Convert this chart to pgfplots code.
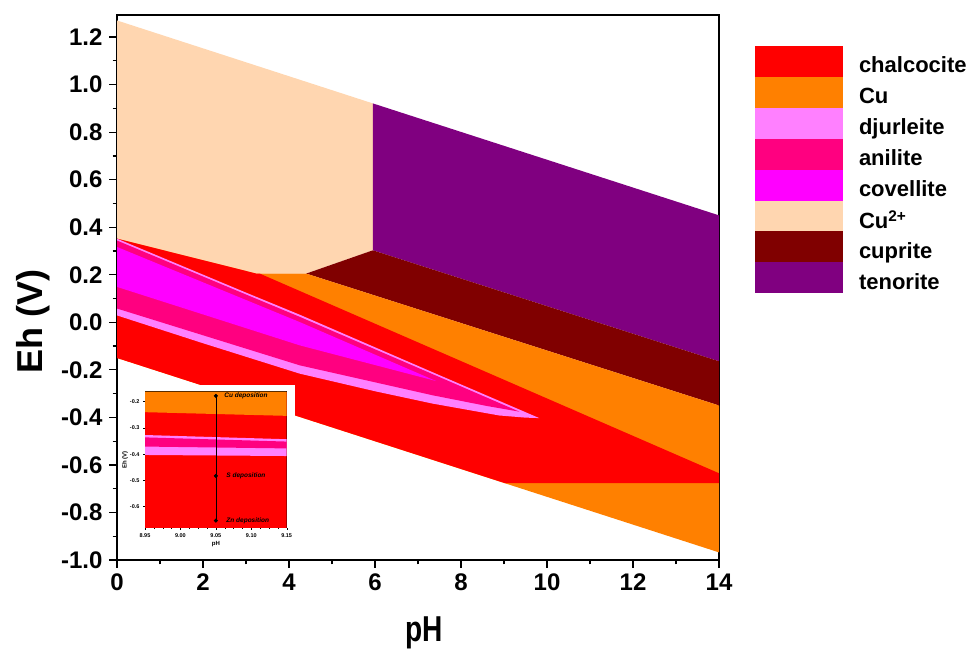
\documentclass[border=0pt]{standalone}
\usepackage{fontspec}
\setmainfont{Liberation Sans}
\usepackage{graphicx}
\usepackage{pgfplots}
\pgfplotsset{compat=1.18}
\definecolor{chalc}{HTML}{FF0000}
\definecolor{cuorg}{HTML}{FF8000}
\definecolor{djur}{HTML}{FF80FF}
\definecolor{anil}{HTML}{FF0080}
\definecolor{covel}{HTML}{FF00FF}
\definecolor{cupeach}{HTML}{FFD6B0}
\definecolor{cupr}{HTML}{800000}
\definecolor{tenor}{HTML}{800080}
\begin{document}
\begin{tikzpicture}[x=1pt,y=1pt]
\useasboundingbox (0,0) rectangle (977,652);
\begin{axis}[
  at={(117pt,92pt)}, anchor=south west,
  scale only axis, width=602pt, height=545pt,
  xmin=0, xmax=14, ymin=-1.0, ymax=1.293,
  xtick={0,2,4,6,8,10,12,14},
  minor x tick num=1,
  ytick={-1.0,-0.8,-0.6,-0.4,-0.2,0,0.2,0.4,0.6,0.8,1.0,1.2},
  minor y tick num=1,
  tick align=outside, tick pos=left,
  major tick length=8pt, minor tick length=4.5pt,
  tick style={black, line width=1.2pt},
  axis line style={line width=1.3pt},
  /pgf/number format/assume math mode=true,
  tick label style={font=\fontsize{24}{28}\selectfont\bfseries},
  xticklabel style={yshift=-2pt},
  yticklabel style={xshift=-3pt, /pgf/number format/.cd, fixed, fixed zerofill, precision=1},
  xlabel={\scalebox{0.78}[1]{pH}}, ylabel={Eh (V)},
  label style={font=\fontsize{36}{40}\selectfont\bfseries},
  xlabel style={at={(axis description cs:0.51,-0.134)}, anchor=center},
  ylabel style={at={(axis description cs:-0.139,0.437)}, anchor=center},
  legend style={at={(axis description cs:1.0598,0.943)}, anchor=north west,
    draw=none, fill=none, inner sep=0pt, outer sep=0pt, row sep=0pt,
    nodes={inner sep=0pt},
    font=\fontsize{22}{26}\selectfont\bfseries, cells={anchor=west}},
  legend image code/.code={\fill[#1] (0pt,-11.2pt) rectangle (88pt,19.7pt); \path (104pt,0pt);},
]
\addlegendimage{fill=chalc, draw=none}
\addlegendimage{fill=cuorg, draw=none}
\addlegendimage{fill=djur, draw=none}
\addlegendimage{fill=anil, draw=none}
\addlegendimage{fill=covel, draw=none}
\addlegendimage{fill=cupeach, draw=none}
\addlegendimage{fill=cupr, draw=none}
\addlegendimage{fill=tenor, draw=none}
\legend{chalcocite, Cu, djurleite, anilite, covellite, Cu\textsuperscript{2+}, cuprite, tenorite}
% Cu2+
\addplot[fill=cupeach, draw=none, forget plot] coordinates {(0,1.27) (5.95,0.921) (5.95,0.303) (4.40,0.205) (3.24,0.205) (0,0.352)};
% tenorite
\addplot[fill=tenor, draw=none, forget plot] coordinates {(5.95,0.921) (14,0.45) (14,-0.164) (5.95,0.303)};
% cuprite
\addplot[fill=cupr, draw=none, forget plot] coordinates {(4.40,0.205) (5.95,0.303) (14,-0.164) (14,-0.35)};
% Cu
\addplot[fill=cuorg, draw=none, forget plot] coordinates {(3.24,0.205) (4.40,0.205) (14,-0.35) (14,-0.968) (0,-0.15) (0,0.352)};
% chalcocite
\addplot[fill=chalc, draw=none, forget plot] coordinates {(0,0.352) (3.24,0.205) (3.32,0.205) (14,-0.635) (14,-0.677) (9.03,-0.677) (0,-0.15)};
% djurleite
\addplot[fill=djur, draw=none, forget plot] coordinates {(0,0.352) (3,0.125) (4.25,0.032) (7.34,-0.21) (9.82,-0.403) (9.5,-0.401) (8.89,-0.392) (7.34,-0.342) (6,-0.29) (4.25,-0.216) (2,-0.088) (0,0.029)};
% anilite
\addplot[fill=anil, draw=none, forget plot] coordinates {(0,0.344) (3,0.117) (4.25,0.023) (7.34,-0.218) (9.0,-0.348) (9.36,-0.376) (8.6,-0.352) (7.34,-0.307) (4.25,-0.181) (0,0.058)};
% covellite
\addplot[fill=covel, draw=none, forget plot] coordinates {(0,0.317) (4.25,0.001) (7.42,-0.247) (4.25,-0.097) (0,0.149)};
% inset background
\addplot[fill=white, draw=none, forget plot] coordinates {(0.023,-0.265) (4.13,-0.265) (4.13,-0.968) (0.023,-0.968)};
\end{axis}
\begin{axis}[
  at={(145pt,124.3pt)}, anchor=south west,
  scale only axis, width=141.7pt, height=136pt,
  xmin=8.95, xmax=9.15, ymin=-0.68, ymax=-0.162,
  xtick={8.95,9.00,9.05,9.10,9.15},
  xticklabels={8.95,9.00,9.05,9.10,9.15},
  minor x tick num=3,
  ytick={-0.6,-0.5,-0.4,-0.3,-0.2},
  yticklabels={-0.6,-0.5,-0.4,-0.3,-0.2},
  tick align=outside, tick pos=left,
  major tick length=2pt, minor tick length=1pt,
  tick style={black, line width=0.4pt},
  axis line style={line width=0.6pt},
  tick label style={font=\fontsize{5.5}{6}\selectfont\bfseries},
  xlabel={pH}, ylabel={Eh (V)},
  label style={font=\fontsize{6}{7}\selectfont\bfseries},
  xlabel style={at={(axis description cs:0.5,-0.12)}, anchor=center},
  ylabel style={at={(axis description cs:-0.14,0.5)}, anchor=center},
]
\addplot[fill=chalc, draw=none] coordinates {(8.95,-0.68) (9.15,-0.68) (9.15,-0.162) (8.95,-0.162)};
\addplot[fill=cuorg, draw=none] coordinates {(8.95,-0.162) (9.15,-0.162) (9.15,-0.254) (8.95,-0.240)};
\addplot[fill=djur, draw=none] coordinates {(8.95,-0.327) (9.15,-0.343) (9.15,-0.407) (8.95,-0.403)};
\addplot[fill=anil, draw=none] coordinates {(8.95,-0.336) (9.15,-0.352) (9.15,-0.378) (8.95,-0.371)};
\addplot[black, line width=0.6pt, mark=*, mark size=1.7pt] coordinates {(9.05,-0.178) (9.05,-0.483) (9.05,-0.653)};
\node[anchor=west, font=\fontsize{6.5}{7}\selectfont\bfseries\itshape] at (axis cs:9.057,-0.178) {Cu deposition};
\node[anchor=west, font=\fontsize{6.5}{7}\selectfont\bfseries\itshape] at (axis cs:9.060,-0.483) {S deposition};
\node[anchor=west, font=\fontsize{6.5}{7}\selectfont\bfseries\itshape] at (axis cs:9.060,-0.653) {Zn deposition};
\end{axis}
\end{tikzpicture}
\end{document}
